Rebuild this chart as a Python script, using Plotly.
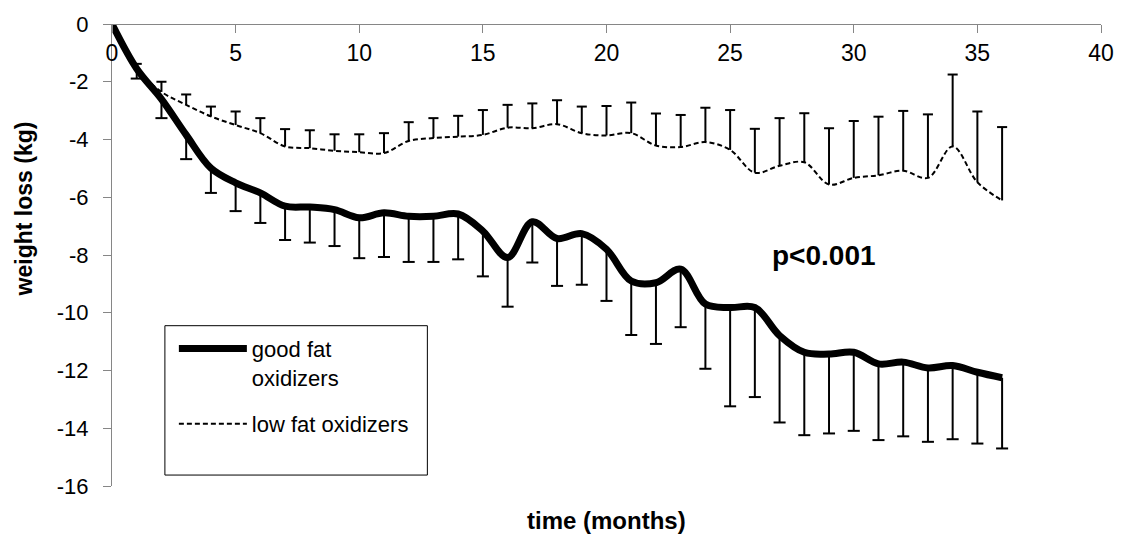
import numpy as np
import plotly.graph_objects as go

# ---- data ----
months = list(range(0, 37))

good_mean = [0.00, -1.55, -2.60, -3.84, -4.99, -5.50, -5.85, -6.31, -6.34, -6.43,
             -6.71, -6.54, -6.66, -6.66, -6.58, -7.17, -8.09, -6.85, -7.43, -7.26,
             -7.80, -8.90, -8.96, -8.49, -9.70, -9.82, -9.82, -10.79, -11.37, -11.43,
             -11.37, -11.77, -11.71, -11.91, -11.83, -12.06, -12.25]
good_sd = [0.00, 0.34, 0.66, 0.84, 0.86, 0.98, 1.04, 1.17, 1.23, 1.26,
           1.40, 1.53, 1.58, 1.58, 1.57, 1.57, 1.70, 1.41, 1.64, 1.77,
           1.79, 1.87, 2.12, 2.01, 2.24, 3.42, 3.10, 3.01, 2.87, 2.75,
           2.72, 2.64, 2.57, 2.56, 2.55, 2.47, 2.45]

low_mean = [0.00, -1.55, -2.35, -2.80, -3.20, -3.50, -3.78, -4.24, -4.30, -4.39,
            -4.44, -4.47, -4.05, -3.95, -3.90, -3.84, -3.59, -3.61, -3.47, -3.78,
            -3.86, -3.78, -4.21, -4.26, -4.09, -4.36, -5.15, -4.91, -4.79, -5.56,
            -5.33, -5.24, -5.08, -5.33, -4.24, -5.48, -6.11]
low_sd = [0.00, 0.17, 0.35, 0.36, 0.34, 0.47, 0.52, 0.60, 0.62, 0.57,
          0.62, 0.69, 0.65, 0.69, 0.72, 0.86, 0.79, 0.86, 0.83, 0.92,
          1.02, 1.06, 1.11, 1.11, 1.19, 1.38, 1.52, 1.65, 1.70, 1.95,
          1.97, 2.03, 2.07, 2.20, 2.49, 2.45, 2.54]

x_ticks = [0, 5, 10, 15, 20, 25, 30, 35, 40]
y_ticks = [0, -2, -4, -6, -8, -10, -12, -14, -16]

FONT = "Liberation Sans, Arial, sans-serif"
AXIS_GREY = "#868686"

gm = np.array(good_mean)
gs = np.array(good_sd)
lm = np.array(low_mean)
ls = np.array(low_sd)
zeros = [0] * len(months)

fig = go.Figure()

# good fat oxidizers: thick smoothed line, downward error bars
fig.add_trace(go.Scatter(
    x=months, y=good_mean, mode="lines", name="good fat<br>oxidizers",
    legendgroup="good",
    line=dict(color="black", width=7, shape="spline"),
    error_y=dict(type="data", symmetric=False, array=zeros, arrayminus=good_sd,
                 width=0, thickness=2, color="black"),
))
fig.add_trace(go.Scatter(
    x=months[1:], y=list((gm - gs)[1:]), mode="markers", showlegend=False,
    hoverinfo="skip",
    marker=dict(symbol="line-ew", size=8.6, color="black",
                line=dict(width=2, color="black")),
))

# low fat oxidizers: thin dashed smoothed line, upward error bars
fig.add_trace(go.Scatter(
    x=months, y=low_mean, mode="lines", name="low fat oxidizers",
    legendgroup="low",
    line=dict(color="black", width=2, dash="5px,3px", shape="spline"),
    error_y=dict(type="data", symmetric=False, array=low_sd, arrayminus=zeros,
                 width=0, thickness=2, color="black"),
))
fig.add_trace(go.Scatter(
    x=months[1:], y=list((lm + ls)[1:]), mode="markers", showlegend=False,
    hoverinfo="skip",
    marker=dict(symbol="line-ew", size=7.2, color="black",
                line=dict(width=2, color="black")),
))

L, R, T, B = 112, 23, 22, 52
W, H = 1126, 538
pw, ph = W - L - R, H - T - B


def px_x(p):
    return (p - L) / pw


def px_y(p):
    return 1 - (p - T) / ph


fig.update_layout(
    width=W, height=H,
    margin=dict(l=L, r=R, t=T, b=B, pad=0),
    paper_bgcolor="white", plot_bgcolor="white",
    font=dict(family=FONT, size=22, color="black"),
    showlegend=True,
    legend=dict(
        x=px_x(174), y=px_y(327), xanchor="left", yanchor="top",
        bgcolor="rgba(0,0,0,0)", borderwidth=0,
        font=dict(family=FONT, size=22, color="black"),
        itemwidth=68, valign="top", tracegroupgap=15,
    ),
    xaxis=dict(
        range=[0, 40], tickvals=x_ticks, ticktext=[str(v) for v in x_ticks],
        anchor="free", position=1, side="bottom",
        showline=True, linecolor=AXIS_GREY, linewidth=1,
        ticks="outside", ticklen=8, tickcolor=AXIS_GREY, tickwidth=1,
        showgrid=False, zeroline=False, ticklabelstandoff=0,
        tickfont=dict(family=FONT, size=23, color="black"),
    ),
    yaxis=dict(
        range=[-16, 0], tickvals=y_ticks, ticktext=[str(v) for v in y_ticks],
        showline=True, linecolor=AXIS_GREY, linewidth=1,
        ticks="outside", ticklen=8, tickcolor=AXIS_GREY, tickwidth=1,
        showgrid=False, zeroline=False, ticklabelstandoff=10,
        tickfont=dict(family=FONT, size=22, color="black"),
    ),
    shapes=[dict(
        type="rect", xref="paper", yref="paper",
        x0=px_x(165), x1=px_x(428), y0=px_y(475), y1=px_y(325),
        line=dict(color="black", width=1), fillcolor="rgba(0,0,0,0)", layer="above",
    )],
    annotations=[
        dict(text="<b>time (months)</b>", xref="paper", yref="paper",
             x=0.5, y=px_y(521), xanchor="center", yanchor="middle",
             showarrow=False, font=dict(family=FONT, size=24, color="black")),
        dict(text="<b>weight loss (kg)</b>", xref="paper", yref="paper",
             x=px_x(24), y=px_y(208), xanchor="center", yanchor="middle",
             textangle=-90, showarrow=False,
             font=dict(family=FONT, size=23, color="black")),
        dict(text="<b>p<0.001</b>", xref="x", yref="y",
             x=28.8, y=-8.0, xanchor="center", yanchor="middle",
             showarrow=False, font=dict(family=FONT, size=28, color="black")),
    ],
)

fig.write_html("out.html")
